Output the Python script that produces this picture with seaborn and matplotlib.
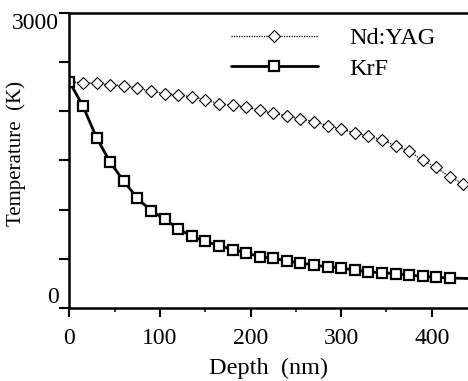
import matplotlib
matplotlib.use("Agg")
import matplotlib.pyplot as plt
import seaborn as sns
import numpy as np
import pandas as pd
from matplotlib.ticker import MultipleLocator, FuncFormatter

depth_ndyag = [0, 15, 30, 45, 60, 75, 90, 105, 120, 135, 150, 165, 180, 195, 210,
               225, 240, 255, 270, 285, 300, 315, 330, 345, 360, 375, 390, 405, 420, 435]
ndyag = [2300, 2290, 2285, 2270, 2260, 2235, 2205, 2180, 2165, 2150, 2120, 2075,
         2060, 2045, 2010, 1980, 1955, 1925, 1895, 1855, 1820, 1780, 1750, 1710,
         1650, 1595, 1500, 1430, 1330, 1265]
depth_krf = [0, 15, 30, 45, 60, 75, 90, 105, 120, 135, 150, 165, 180, 195, 210,
             225, 240, 255, 270, 285, 300, 315, 330, 345, 360, 375, 390, 405, 420, 440]
krf = [2300, 2050, 1730, 1480, 1290, 1115, 990, 905, 805, 730, 677, 635, 594,
       563, 521, 505, 479, 458, 437, 417, 406, 385, 368, 358, 350, 333, 325,
       312, 305, 300]

sns.set_style("ticks")
plt.rcParams['font.family'] = ['Liberation Serif', 'DejaVu Serif']
plt.rcParams['text.color'] = 'black'
plt.rcParams['axes.labelcolor'] = 'black'

fig = plt.figure(figsize=(4.68, 3.81), dpi=100)
ax = fig.add_axes([0.1485, 0.1916, 0.8515, 0.7743])

df_nd = pd.DataFrame({"Depth": depth_ndyag, "T": ndyag})
df_kr = pd.DataFrame({"Depth": depth_krf, "T": krf})

sns.lineplot(data=df_nd, x="Depth", y="T", ax=ax, color="black", lw=0.9,
             linestyle=(0, (1, 1)), marker="D", markersize=6.5,
             markerfacecolor="white", markeredgecolor="black",
             markeredgewidth=0.8, label="Nd:YAG")
sns.lineplot(data=df_kr, x="Depth", y="T", ax=ax, color="black", lw=2.0,
             marker="s", markersize=7, markerfacecolor="white",
             markeredgecolor="black", markeredgewidth=1.6,
             markevery=slice(0, 29), label="KrF")

ax.set_xlim(0, 440)
ax.set_ylim(0, 3000)
ax.xaxis.set_major_locator(MultipleLocator(100))
ax.xaxis.set_minor_locator(MultipleLocator(50))
ax.yaxis.set_major_locator(MultipleLocator(500))
ax.yaxis.set_major_formatter(FuncFormatter(
    lambda v, p: f"{int(v)}" if v in (0, 3000) else ""))

ax.tick_params(axis="x", which="major", direction="out", length=6.5,
               width=1.5, labelsize=17, colors="black", pad=8)
ax.tick_params(axis="y", which="major", direction="out", length=7,
               width=1.5, labelsize=17, colors="black", pad=1)
ax.tick_params(axis="x", which="minor", direction="out", length=3, width=1.3)

for s in ["left", "bottom", "top"]:
    ax.spines[s].set_linewidth(1.8)
    ax.spines[s].set_color("black")
ax.spines["right"].set_visible(False)

ax.set_xlabel("Depth  (nm)", fontsize=17.5, color="black")
ax.set_ylabel("Temperature  (K)", fontsize=15, color="black")
ax.yaxis.set_label_coords(-0.108, 0.525)
ax.xaxis.set_label_coords(0.5, -0.17)

fig.canvas.draw()
for lbl in ax.get_yticklabels():
    txt = lbl.get_text()
    if txt == "0":
        lbl.set_verticalalignment("bottom")
    elif txt == "3000":
        lbl.set_verticalalignment("top")

leg = ax.legend(loc="upper left", frameon=False, fontsize=17.5,
                handlelength=3.6, handletextpad=1.3, labelspacing=0.35,
                bbox_to_anchor=(0.38, 0.985), borderaxespad=0.0)
for t in leg.get_texts():
    t.set_color("black")

fig.savefig("out.png", dpi=100)
